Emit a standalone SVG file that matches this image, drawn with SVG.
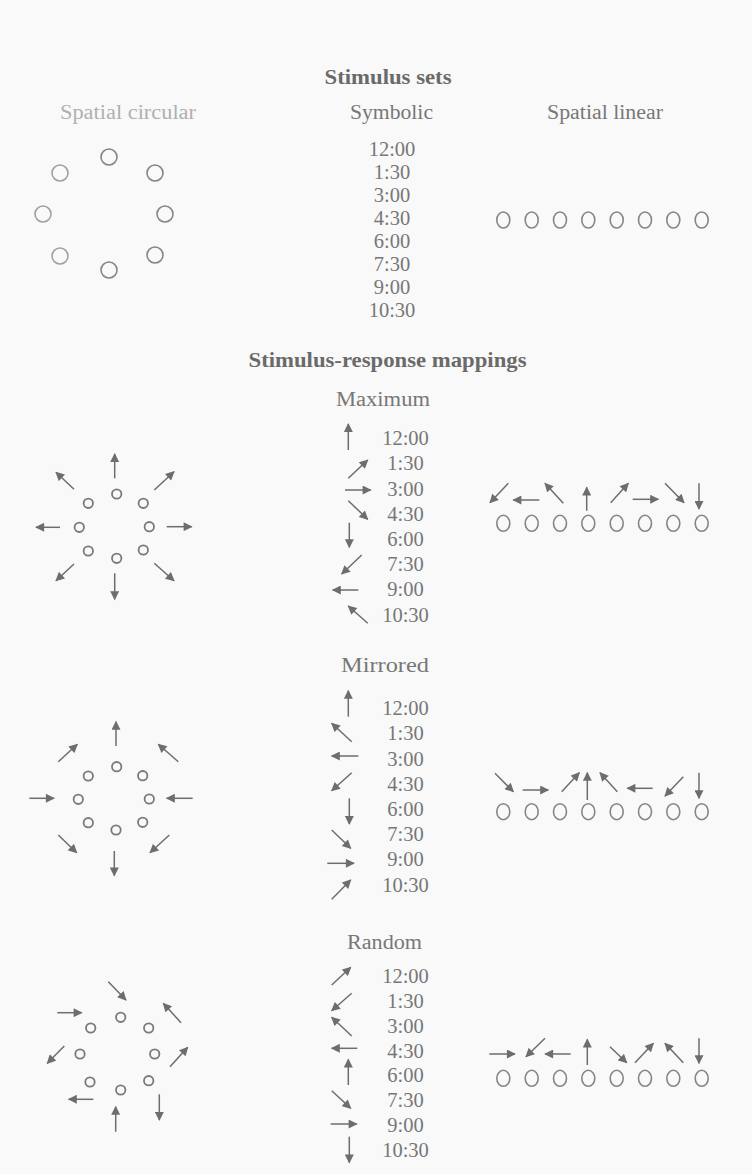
<svg xmlns="http://www.w3.org/2000/svg" width="752" height="1174" viewBox="0 0 752 1174">
<style>
text{font-family:"Liberation Serif","DejaVu Serif",serif;fill:#777;text-anchor:middle}
.h{font-weight:bold;font-size:21px;fill:#6a6a6a}
.c{font-size:20px}
.t{font-size:20.5px}
.lc{fill:none;stroke:#858585;stroke-width:1.6}
.sc{fill:none;stroke:#7a7a7a;stroke-width:1.8}
.a line{stroke:#6d6d6d;stroke-width:1.5;marker-end:url(#ah)}
</style>
<defs>
<marker id="ah" viewBox="0 0 10 10" refX="9" refY="5" markerWidth="10" markerHeight="9" markerUnits="userSpaceOnUse" orient="auto">
<path d="M0,0 L10,5 L0,10 Z" fill="#6d6d6d"/>
</marker>
</defs>
<rect width="752" height="1174" fill="#f9f9f9"/>

<g id="titles">
<text class="h" x="388" y="84" textLength="127" lengthAdjust="spacingAndGlyphs">Stimulus sets</text>
<text class="c" x="128" y="119" textLength="136" lengthAdjust="spacingAndGlyphs" style="fill:#b0b0b0">Spatial circular</text>
<text class="c" x="391.5" y="118.5" textLength="83" lengthAdjust="spacingAndGlyphs">Symbolic</text>
<text class="c" x="605" y="118.5" textLength="116" lengthAdjust="spacingAndGlyphs">Spatial linear</text>
<text class="h" x="387.5" y="366.7" textLength="278" lengthAdjust="spacingAndGlyphs">Stimulus-response mappings</text>
<text class="c" x="383" y="406" textLength="94" lengthAdjust="spacingAndGlyphs">Maximum</text>
<text class="c" x="385" y="672" textLength="88" lengthAdjust="spacingAndGlyphs">Mirrored</text>
<text class="c" x="384.5" y="949" textLength="75" lengthAdjust="spacingAndGlyphs">Random</text>
</g>

<g id="set-circular" class="lc">
<circle cx="109" cy="157" r="8"/>
<circle cx="155" cy="173" r="8"/>
<circle cx="165" cy="214" r="8"/>
<circle cx="155" cy="255" r="8"/>
<circle cx="109" cy="270" r="8"/>
<circle cx="60" cy="256" r="8" style="stroke:#a0a0a0"/>
<circle cx="43" cy="214" r="8" style="stroke:#a0a0a0"/>
<circle cx="60" cy="173" r="8" style="stroke:#a0a0a0"/>
</g>

<g id="set-symbolic">
<text class="t" x="392" y="155.5">12:00</text>
<text class="t" x="392" y="178.5">1:30</text>
<text class="t" x="392" y="201.5">3:00</text>
<text class="t" x="392" y="224.5">4:30</text>
<text class="t" x="392" y="247.5">6:00</text>
<text class="t" x="392" y="270.5">7:30</text>
<text class="t" x="392" y="293.5">9:00</text>
<text class="t" x="392" y="316.5">10:30</text>
</g>

<g id="set-linear" class="lc">
<ellipse cx="503.3" cy="220" rx="6.5" ry="8"/>
<ellipse cx="531.7" cy="220" rx="6.5" ry="8"/>
<ellipse cx="560" cy="220" rx="6.5" ry="8"/>
<ellipse cx="588.3" cy="220" rx="6.5" ry="8"/>
<ellipse cx="616.7" cy="220" rx="6.5" ry="8"/>
<ellipse cx="645" cy="220" rx="6.5" ry="8"/>
<ellipse cx="673.3" cy="220" rx="6.5" ry="8"/>
<ellipse cx="701.7" cy="220" rx="6.5" ry="8"/>
</g>

<!-- Maximum -->
<g id="max-circular" class="sc">
<circle cx="116.7" cy="494" r="4.7"/>
<circle cx="143.3" cy="503.3" r="4.7"/>
<circle cx="149.3" cy="526.7" r="4.7"/>
<circle cx="143.3" cy="550" r="4.7"/>
<circle cx="116.7" cy="558.3" r="4.7"/>
<circle cx="88.3" cy="551" r="4.7"/>
<circle cx="79.3" cy="527.3" r="4.7"/>
<circle cx="88.3" cy="503.3" r="4.7"/>
</g>
<g id="max-symbolic">
<text class="t" x="405.5" y="445">12:00</text>
<text class="t" x="405.5" y="470.2">1:30</text>
<text class="t" x="405.5" y="495.5">3:00</text>
<text class="t" x="405.5" y="520.7">4:30</text>
<text class="t" x="405.5" y="546">6:00</text>
<text class="t" x="405.5" y="571.2">7:30</text>
<text class="t" x="405.5" y="596.4">9:00</text>
<text class="t" x="405.5" y="621.7">10:30</text>
</g>
<g id="max-linear" class="lc">
<ellipse cx="503.3" cy="523.3" rx="6.5" ry="8"/>
<ellipse cx="531.7" cy="523.3" rx="6.5" ry="8"/>
<ellipse cx="560" cy="523.3" rx="6.5" ry="8"/>
<ellipse cx="588.3" cy="523.3" rx="6.5" ry="8"/>
<ellipse cx="616.7" cy="523.3" rx="6.5" ry="8"/>
<ellipse cx="645" cy="523.3" rx="6.5" ry="8"/>
<ellipse cx="673.3" cy="523.3" rx="6.5" ry="8"/>
<ellipse cx="701.7" cy="523.3" rx="6.5" ry="8"/>
</g>

<!-- Mirrored -->
<g id="mir-circular" class="sc">
<circle cx="116.7" cy="766.7" r="4.7"/>
<circle cx="142.7" cy="775.7" r="4.7"/>
<circle cx="149.3" cy="799" r="4.7"/>
<circle cx="142.7" cy="822.3" r="4.7"/>
<circle cx="116" cy="830" r="4.7"/>
<circle cx="88.3" cy="822.7" r="4.7"/>
<circle cx="78.3" cy="799.3" r="4.7"/>
<circle cx="88.3" cy="776" r="4.7"/>
</g>
<g id="mir-symbolic">
<text class="t" x="405.5" y="715">12:00</text>
<text class="t" x="405.5" y="740.2">1:30</text>
<text class="t" x="405.5" y="765.5">3:00</text>
<text class="t" x="405.5" y="790.7">4:30</text>
<text class="t" x="405.5" y="816">6:00</text>
<text class="t" x="405.5" y="841.2">7:30</text>
<text class="t" x="405.5" y="866.4">9:00</text>
<text class="t" x="405.5" y="891.7">10:30</text>
</g>
<g id="mir-linear" class="lc">
<ellipse cx="503.3" cy="811.7" rx="6.5" ry="8"/>
<ellipse cx="531.7" cy="811.7" rx="6.5" ry="8"/>
<ellipse cx="560" cy="811.7" rx="6.5" ry="8"/>
<ellipse cx="588.3" cy="811.7" rx="6.5" ry="8"/>
<ellipse cx="616.7" cy="811.7" rx="6.5" ry="8"/>
<ellipse cx="645" cy="811.7" rx="6.5" ry="8"/>
<ellipse cx="673.3" cy="811.7" rx="6.5" ry="8"/>
<ellipse cx="701.7" cy="811.7" rx="6.5" ry="8"/>
</g>

<!-- Random -->
<g id="rnd-circular" class="sc">
<circle cx="120.7" cy="1017.3" r="4.7"/>
<circle cx="148.7" cy="1028" r="4.7"/>
<circle cx="154.7" cy="1054" r="4.7"/>
<circle cx="148.7" cy="1080.7" r="4.7"/>
<circle cx="120.7" cy="1090" r="4.7"/>
<circle cx="90" cy="1082" r="4.7"/>
<circle cx="80" cy="1054" r="4.7"/>
<circle cx="90.7" cy="1028" r="4.7"/>
</g>
<g id="rnd-symbolic">
<text class="t" x="405.5" y="983.3">12:00</text>
<text class="t" x="405.5" y="1008.1">1:30</text>
<text class="t" x="405.5" y="1032.9">3:00</text>
<text class="t" x="405.5" y="1057.6">4:30</text>
<text class="t" x="405.5" y="1082.4">6:00</text>
<text class="t" x="405.5" y="1107.2">7:30</text>
<text class="t" x="405.5" y="1131.9">9:00</text>
<text class="t" x="405.5" y="1156.7">10:30</text>
</g>
<g id="rnd-linear" class="lc">
<ellipse cx="503.3" cy="1078.3" rx="6.5" ry="8"/>
<ellipse cx="531.7" cy="1078.3" rx="6.5" ry="8"/>
<ellipse cx="560" cy="1078.3" rx="6.5" ry="8"/>
<ellipse cx="588.3" cy="1078.3" rx="6.5" ry="8"/>
<ellipse cx="616.7" cy="1078.3" rx="6.5" ry="8"/>
<ellipse cx="645" cy="1078.3" rx="6.5" ry="8"/>
<ellipse cx="673.3" cy="1078.3" rx="6.5" ry="8"/>
<ellipse cx="701.7" cy="1078.3" rx="6.5" ry="8"/>
</g>

<g id="connectors" class="a">
<!-- max circular -->
<line x1="114.7" y1="478.3" x2="114.7" y2="454"/>
<line x1="154.3" y1="490" x2="174" y2="471.7"/>
<line x1="166.7" y1="526.7" x2="191.7" y2="526.7"/>
<line x1="154.3" y1="563.3" x2="174" y2="580.7"/>
<line x1="114.7" y1="573.3" x2="114.7" y2="599.3"/>
<line x1="74" y1="564" x2="56" y2="580.7"/>
<line x1="60" y1="527.3" x2="36" y2="527.3"/>
<line x1="74" y1="489.3" x2="56" y2="472.3"/>
<!-- max symbolic -->
<line x1="348.3" y1="450" x2="348.3" y2="424"/>
<line x1="348.3" y1="478.3" x2="367.7" y2="460"/>
<line x1="345" y1="490" x2="370.7" y2="490"/>
<line x1="348.3" y1="500.7" x2="367.7" y2="519.3"/>
<line x1="349.3" y1="522.7" x2="349.3" y2="547.3"/>
<line x1="361.7" y1="555" x2="341.7" y2="574"/>
<line x1="358.3" y1="590" x2="332.7" y2="590"/>
<line x1="367.7" y1="623.3" x2="348.3" y2="606"/>
<!-- max linear -->
<line x1="508.3" y1="483.3" x2="490" y2="502.7"/>
<line x1="539.3" y1="500" x2="513.3" y2="500"/>
<line x1="563.3" y1="503.3" x2="545" y2="483.3"/>
<line x1="586.7" y1="510.7" x2="586.7" y2="487.3"/>
<line x1="610.7" y1="502.7" x2="628.3" y2="483.3"/>
<line x1="632.7" y1="499.3" x2="658.3" y2="499.3"/>
<line x1="665" y1="483.3" x2="684" y2="502.7"/>
<line x1="699" y1="483.3" x2="699" y2="509"/>
<!-- mir circular -->
<line x1="116" y1="746" x2="116" y2="721.7"/>
<line x1="58.3" y1="761.7" x2="77.3" y2="744.3"/>
<line x1="178.3" y1="761.7" x2="158.3" y2="744.3"/>
<line x1="29.3" y1="798.3" x2="54" y2="798.3"/>
<line x1="192.7" y1="798.3" x2="166.7" y2="798.3"/>
<line x1="58.3" y1="835" x2="76.7" y2="852.7"/>
<line x1="169.3" y1="835" x2="150" y2="852.7"/>
<line x1="114.3" y1="851" x2="114.3" y2="875.7"/>
<!-- mir symbolic -->
<line x1="348.3" y1="716.7" x2="348.3" y2="690.7"/>
<line x1="351.7" y1="741.7" x2="331.7" y2="723.3"/>
<line x1="358.3" y1="756" x2="331.7" y2="756"/>
<line x1="351.7" y1="772.7" x2="331.7" y2="790.7"/>
<line x1="349.3" y1="798.3" x2="349.3" y2="824"/>
<line x1="331.7" y1="830" x2="350.7" y2="848.3"/>
<line x1="327.3" y1="863.3" x2="354" y2="863.3"/>
<line x1="331.7" y1="899.3" x2="350.7" y2="880"/>
<!-- mir linear -->
<line x1="495" y1="773.3" x2="513.3" y2="791.7"/>
<line x1="522.7" y1="790" x2="548.3" y2="790"/>
<line x1="561.7" y1="791.7" x2="579.3" y2="772.7"/>
<line x1="587.3" y1="800" x2="587.3" y2="772.7"/>
<line x1="617.3" y1="791.7" x2="600" y2="772.7"/>
<line x1="652.7" y1="788.3" x2="627.3" y2="788.3"/>
<line x1="683.3" y1="776.7" x2="665" y2="796"/>
<line x1="699" y1="772.7" x2="699" y2="798.3"/>
<!-- rnd circular -->
<line x1="108.3" y1="981.7" x2="126" y2="1000"/>
<line x1="57.3" y1="1012.7" x2="81.7" y2="1012.7"/>
<line x1="181" y1="1022.7" x2="163.3" y2="1003.3"/>
<line x1="64.3" y1="1046" x2="47.3" y2="1063.3"/>
<line x1="170" y1="1066.7" x2="187.7" y2="1047.3"/>
<line x1="93.3" y1="1099.3" x2="68.7" y2="1099.3"/>
<line x1="159.3" y1="1094.3" x2="159.3" y2="1120"/>
<line x1="115.7" y1="1131.7" x2="115.7" y2="1106.7"/>
<!-- rnd symbolic -->
<line x1="331.7" y1="985" x2="350.7" y2="967.3"/>
<line x1="351.7" y1="993.3" x2="331.7" y2="1010.7"/>
<line x1="351.7" y1="1036" x2="331.7" y2="1017.3"/>
<line x1="357.3" y1="1048.3" x2="331.7" y2="1048.3"/>
<line x1="348.3" y1="1085" x2="348.3" y2="1059.3"/>
<line x1="331.7" y1="1090.7" x2="350.7" y2="1108.3"/>
<line x1="330.7" y1="1124" x2="356.7" y2="1124"/>
<line x1="349.3" y1="1136.7" x2="349.3" y2="1162.7"/>
<!-- rnd linear -->
<line x1="489.3" y1="1054" x2="515" y2="1054"/>
<line x1="545" y1="1038.3" x2="526" y2="1056.7"/>
<line x1="570.7" y1="1054" x2="545" y2="1054"/>
<line x1="587.3" y1="1065" x2="587.3" y2="1039.3"/>
<line x1="610" y1="1046.7" x2="626.7" y2="1062.7"/>
<line x1="635" y1="1062.7" x2="653.3" y2="1043.3"/>
<line x1="683.3" y1="1062.7" x2="665" y2="1043.3"/>
<line x1="699" y1="1038.3" x2="699" y2="1063.3"/>
</g>
</svg>
